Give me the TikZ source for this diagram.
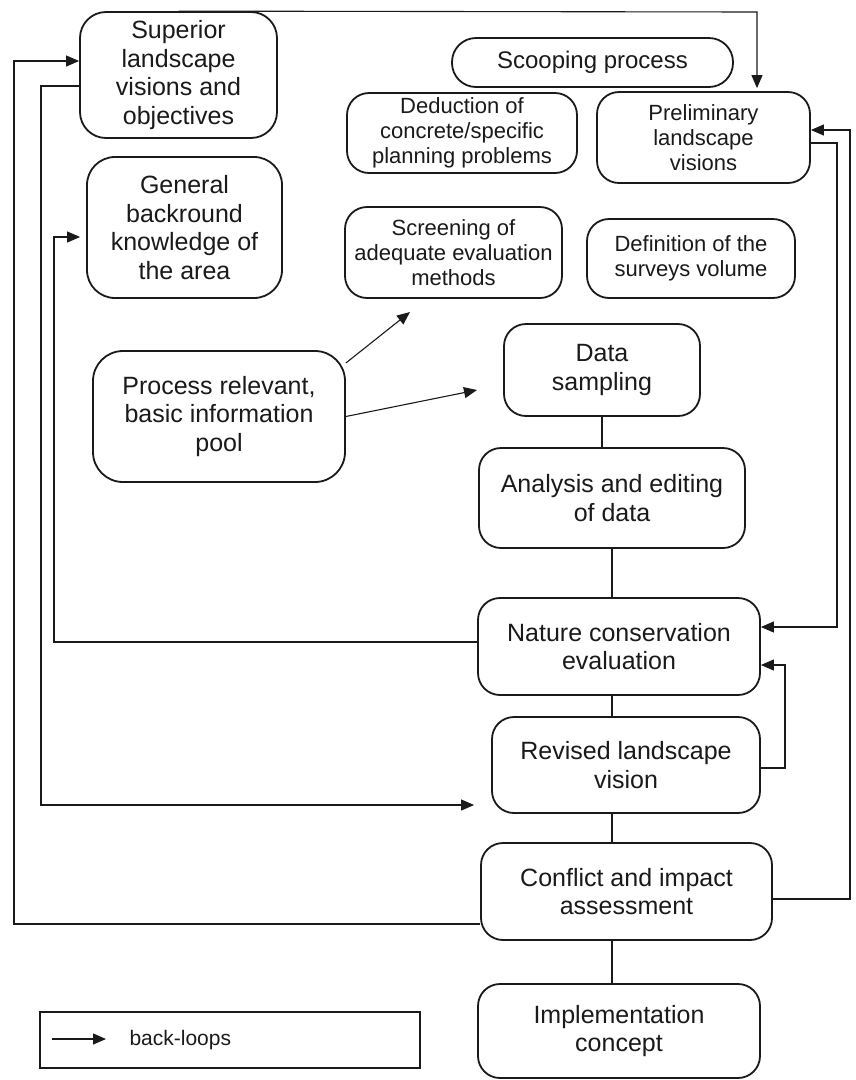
\documentclass[tikz,border=0pt]{standalone}
\usepackage{fontspec}
\setmainfont{Liberation Sans}
\usetikzlibrary{arrows.meta,calc}
\definecolor{ink}{HTML}{1A1A1A}
\begin{document}
\begin{tikzpicture}[x=1pt,y=-1pt,
  box/.style={draw=ink, line width=1.8pt, rounded corners=22pt, align=center,
              inner sep=0pt, fill=white, text=ink},
  big/.style={font=\fontsize{25}{28.5}\selectfont},
  small/.style={font=\fontsize{22}{25}\selectfont},
  wire/.style={draw=ink, line width=1.1pt},
  loop/.style={wire, -{Triangle[length=13pt,width=11pt]}},
]
\useasboundingbox (0,0) rectangle (855,1080);

% ---- boxes ----
\node[box,big,minimum width=197pt,minimum height=126pt,rounded corners=26pt] (sup) at (178.5,75)
  {Superior\\landscape\\visions and\\objectives};
\node[box,big,minimum width=195pt,minimum height=141pt,rounded corners=28pt] (gen) at (184.5,227.5)
  {General\\backround\\knowledge of\\the area};
\node[box,font=\fontsize{24}{27}\selectfont,minimum width=281pt,minimum height=49pt,rounded corners=24pt] (scoop) at (592.5,62.5)
  {Scooping process};
\node[box,small,minimum width=230pt,minimum height=80pt] (ded) at (462,133)
  {Deduction of\\concrete/specific\\planning problems};
\node[box,small,minimum width=213pt,minimum height=91pt] (pre) at (703.5,137.5)
  {Preliminary\\landscape\\visions};
\node[box,small,minimum width=217pt,minimum height=91pt] (scr) at (453.5,252.5)
  {Screening of\\adequate evaluation\\methods};
\node[box,small,minimum width=208pt,minimum height=79pt] (def) at (691,258.5)
  {Definition of the\\surveys volume};
\node[box,big,minimum width=252pt,minimum height=131pt,rounded corners=30pt] (proc) at (219,416.5)
  {Process relevant,\\basic information\\pool};
\node[box,big,minimum width=196pt,minimum height=92pt] (data) at (602,370)
  {Data\\sampling};
\node[box,big,minimum width=266pt,minimum height=100pt] (ana) at (612,498)
  {Analysis and editing\\of data};
\node[box,big,minimum width=282pt,minimum height=97pt] (nat) at (619,646.5)
  {Nature conservation\\evaluation};
\node[box,big,minimum width=268pt,minimum height=96pt] (rev) at (626,765)
  {Revised landscape\\vision};
\node[box,big,minimum width=291pt,minimum height=97pt] (con) at (626.5,891.5)
  {Conflict and impact\\assessment};
\node[box,big,minimum width=282pt,minimum height=94pt] (imp) at (619,1031)
  {Implementation\\concept};

% ---- main sequence ----
\draw[wire] (data.south) -- (data.south |- ana.north);
\draw[wire] (ana.south) -- (ana.south |- nat.north);
\draw[wire] (nat.south -| ana.south) -- (rev.north -| ana.south);
\draw[wire] (rev.south -| ana.south) -- (con.north -| ana.south);
\draw[wire] (con.south -| ana.south) -- (imp.north -| ana.south);

% ---- information pool feeds ----
\coordinate (pa) at (410,312);
\coordinate (pb) at (477,390);
\draw[loop] ($(proc.east)+(0,-53.5)$) -- (pa);
\draw[loop] (proc.east) -- (pb);

% ---- back-loops ----
\coordinate (tr) at (757,12);
\draw[loop,shorten >=3pt] (sup.north) -- (tr) -- (tr |- pre.north);

\coordinate (oa) at (14,924);
\coordinate (ob) at (14,61);
\draw[loop] (con.west |- oa) -- (oa) -- (ob) -- (ob -| sup.west);

\coordinate (sa) at (41,86);
\coordinate (sb) at (41,805);
\draw[loop,shorten >=17pt] (sup.west |- sa) -- (sa) -- (sb) -- (sb -| rev.west);

\coordinate (ta) at (54,642);
\coordinate (tb) at (54,237);
\draw[loop,shorten >=6pt] (nat.west |- ta) -- (ta) -- (tb) -- (tb -| gen.west);

\coordinate (ra) at (837,143);
\coordinate (rb) at (837,627);
\draw[loop] (pre.east |- ra) -- (ra) -- (rb) -- (rb -| nat.east);

\coordinate (qa) at (850,899);
\coordinate (qb) at (850,130);
\draw[loop] (con.east |- qa) -- (qa) -- (qb) -- (qb -| pre.east);

\coordinate (va) at (785,768);
\coordinate (vb) at (785,665);
\draw[loop] (rev.east |- va) -- (va) -- (vb) -- (vb -| nat.east);

% ---- legend ----
\node[draw=ink,line width=1.4pt,minimum width=380pt,minimum height=56pt,inner sep=0pt] (leg) at (230,1040) {};
\coordinate (legA) at (52,1039);
\coordinate (legB) at (106,1039);
\draw[loop] (legA) -- (legB);
\node[anchor=west,text=ink,font=\fontsize{21}{24}\selectfont] (legtxt) at (126,1040) {back-loops};
\end{tikzpicture}
\end{document}
